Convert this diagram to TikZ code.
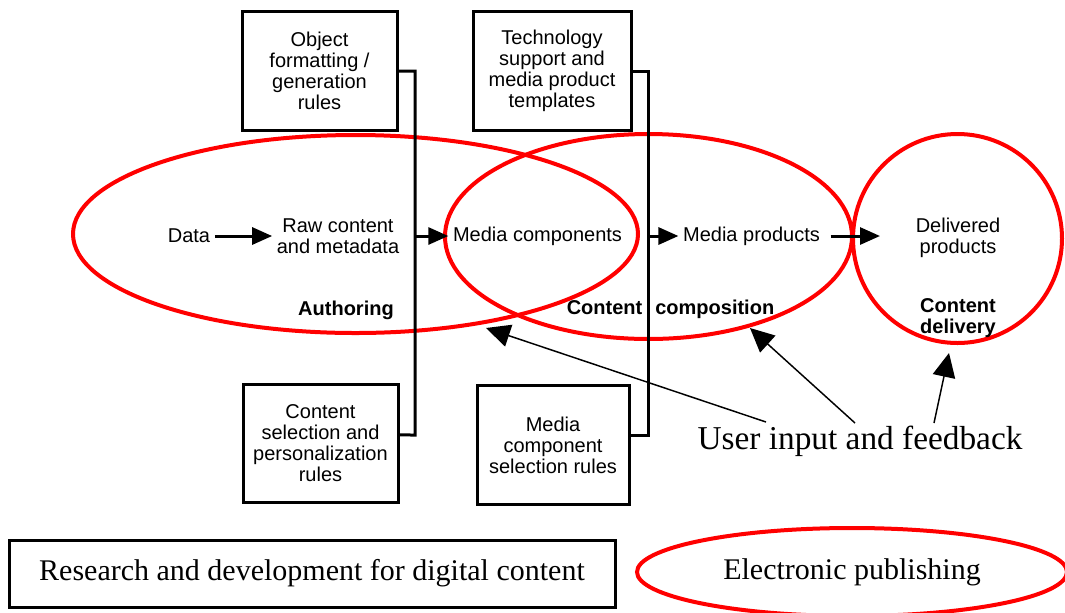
\documentclass[tikz,border=0pt]{standalone}
\usepackage{fontspec}
\setmainfont{Liberation Serif}
\setsansfont{Liberation Sans}
\usetikzlibrary{arrows.meta,shapes.geometric}

\begin{document}
\begin{tikzpicture}[x=0.75pt,y=-0.75pt,
    every node/.style={font=\sffamily\fontsize{15}{15.75}\selectfont},
    rulebox/.style={draw,line width=2.25pt,align=center,minimum height=89pt},
    stage/.style={draw=red,line width=3pt,ellipse,inner sep=0pt},
    stagename/.style={font=\sffamily\bfseries\fontsize{15}{15.75}\selectfont,align=center},
    link/.style={line width=2.25pt},
    flow/.style={line width=2.25pt,-{Triangle[length=15pt,width=12.75pt]}},
    feedback/.style={line width=1.1pt,-{Triangle[length=18pt,width=17pt]}},
    bigtext/.style={font=\rmfamily\fontsize{22.5}{27}\selectfont}]
    \useasboundingbox (0,0) rectangle (1065,612);

    \node[stage,minimum width=423.75pt,minimum height=148.5pt] (authoring) at (355.5,234) {};
    \node[stage,minimum width=305.25pt,minimum height=153.75pt] (composition) at (648.5,236.5) {};
    \node[stage,minimum width=156.75pt,minimum height=156.75pt] (delivery) at (957.5,238.5) {};

    \node[rulebox,minimum width=116.25pt] (objbox) at (319.5,71) {Object\\formatting /\\generation\\rules};
    \node[rulebox,minimum width=118.5pt] (techbox) at (552,71) {Technology\\support and\\media product\\templates};
    \node[rulebox,minimum width=116.25pt] (selbox) at (320.5,443.5) {Content\\selection and\\personalization\\rules};
    \node[rulebox,minimum width=114pt] (mcsbox) at (553,445) {Media\\component\\selection rules};

    \node (data) at (189,236) {Data};
    \node[align=center] (raw) at (338,236) {Raw content\\and metadata};
    \node (mcomp) at (537.5,236) {Media components};
    \node (mprod) at (751.5,236) {Media products};
    \node[align=center] (delivered) at (958,238) {Delivered\\products};

    \node[stagename] (authoringlbl) at (346,310) {Authoring};
    \node[stagename] (compositionlbl) at (670.5,309) {Content\hspace{9.75pt}composition};
    \node[stagename] (deliverylbl) at (958,318) {Content\\delivery};

    \draw[link] (objbox.east) -- (415,71) -- (415,435) -- ([yshift=6.4pt]selbox.east); % rules into authoring
    \draw[link] (techbox.east) -- (648,71) -- (648,435) -- ([yshift=7.5pt]mcsbox.east); % rules into composition

    \coordinate (objbar) at (415,236);
    \coordinate (techbar) at (648,236);
    \coordinate (deliverin) at (880,236);

    \draw[flow] (data) -- (raw);
    \draw[flow] (objbar) -- (mcomp);
    \draw[flow] (techbar) -- (mprod);
    \draw[flow,shorten <=4.5pt] (mprod) -- (deliverin);

    \node[font=\rmfamily\fontsize{25}{30}\selectfont] (usertxt) at (860,441) {User input and feedback};
    \coordinate (userA) at (766,422);
    \coordinate (userB) at (855,423);
    \coordinate (userC) at (934,423);
    \coordinate (fbauth) at (486,328);
    \coordinate (fbcomp) at (750,328);
    \coordinate (fbdeliv) at (949,353);
    \draw[feedback] (userA) -- (fbauth);
    \draw[feedback] (userB) -- (fbcomp);
    \draw[feedback] (userC) -- (fbdeliv);

    \node[draw,line width=2.25pt,bigtext,minimum width=454.5pt,minimum height=50.25pt] (rnd) at (312,573.5) {Research and development for digital content};
    \node[stage,bigtext,minimum width=322.5pt,minimum height=66pt] (epub) at (852,572) {Electronic publishing};
\end{tikzpicture}
\end{document}
